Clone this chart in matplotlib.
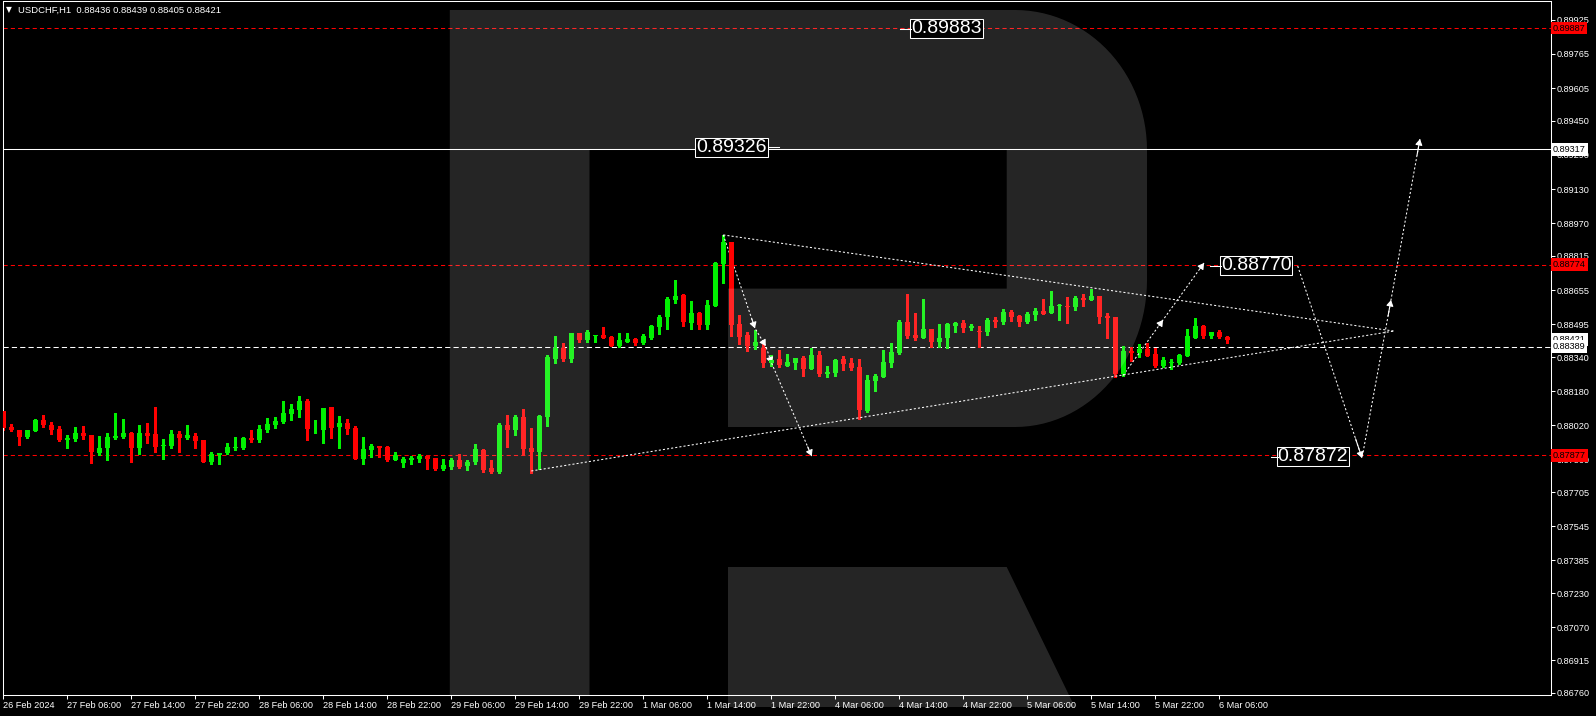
import numpy as np
import matplotlib
matplotlib.use('Agg')
import matplotlib.pyplot as plt
import matplotlib.transforms as mtransforms
from matplotlib.patches import Polygon

plt.rcParams['font.family'] = ['Liberation Sans', 'DejaVu Sans']

# USDCHF H1, bars from 26 Feb 22:00 to 6 Mar 07:00
opens = [0.88086, 0.88012, 0.87996, 0.87965, 0.87993, 0.88043, 0.88020, 0.88001, 0.87951, 0.87956,
         0.87982, 0.87973, 0.87888, 0.87913, 0.87959, 0.87963, 0.87982, 0.87912, 0.87982, 0.87978,
         0.87923, 0.87921, 0.87978, 0.87959, 0.87968, 0.87949, 0.87846, 0.87879, 0.87888, 0.87913,
         0.87912, 0.87959, 0.87949, 0.87996, 0.88020, 0.88034, 0.88072, 0.88091, 0.88133, 0.88004,
         0.87996, 0.88104, 0.88010, 0.88029, 0.88006, 0.87860, 0.87902, 0.87921, 0.87916, 0.87855,
         0.87841, 0.87855, 0.87860, 0.87874, 0.87865, 0.87813, 0.87824, 0.87856, 0.87827, 0.87846,
         0.87903, 0.87820, 0.87801, 0.88020, 0.87997, 0.88058, 0.87911, 0.87895, 0.88058, 0.88331,
         0.88382, 0.88331, 0.88453, 0.88420, 0.88440, 0.88444, 0.88434, 0.88392, 0.88411, 0.88425,
         0.88406, 0.88429, 0.88481, 0.88528, 0.88608, 0.88632, 0.88500, 0.88547, 0.88491, 0.88580,
         0.88777, 0.88881, 0.88495, 0.88444, 0.88392, 0.88382, 0.88313, 0.88331, 0.88298, 0.88312,
         0.88335, 0.88284, 0.88349, 0.88262, 0.88266, 0.88331, 0.88312, 0.88293, 0.88086, 0.88227,
         0.88246, 0.88312, 0.88359, 0.88505, 0.88443, 0.88429, 0.88472, 0.88410, 0.88429, 0.88486,
         0.88500, 0.88476, 0.88462, 0.88458, 0.88514, 0.88505, 0.88552, 0.88533, 0.88505, 0.88538,
         0.88556, 0.88547, 0.88581, 0.88580, 0.88575, 0.88617, 0.88608, 0.88627, 0.88533, 0.88528,
         0.88260, 0.88368, 0.88359, 0.88378, 0.88354, 0.88298, 0.88312, 0.88312, 0.88345, 0.88429,
         0.88486, 0.88439, 0.88458, 0.88436]
highs = [0.88086, 0.88023, 0.87996, 0.87999, 0.88048, 0.88067, 0.88034, 0.88015, 0.87973, 0.88010,
         0.88015, 0.87973, 0.87968, 0.87982, 0.88076, 0.88048, 0.87987, 0.88020, 0.88029, 0.88104,
         0.87954, 0.87996, 0.87992, 0.88020, 0.87982, 0.87949, 0.87893, 0.87888, 0.87935, 0.87963,
         0.87963, 0.87996, 0.88020, 0.88053, 0.88058, 0.88133, 0.88119, 0.88156, 0.88142, 0.88043,
         0.88100, 0.88104, 0.88062, 0.88048, 0.88015, 0.87963, 0.87931, 0.87921, 0.87921, 0.87893,
         0.87870, 0.87874, 0.87884, 0.87879, 0.87865, 0.87860, 0.87865, 0.87884, 0.87856, 0.87931,
         0.87906, 0.87856, 0.88031, 0.88067, 0.88067, 0.88096, 0.88006, 0.88067, 0.88349, 0.88439,
         0.88406, 0.88453, 0.88453, 0.88467, 0.88444, 0.88481, 0.88439, 0.88453, 0.88453, 0.88429,
         0.88448, 0.88491, 0.88538, 0.88622, 0.88702, 0.88636, 0.88603, 0.88552, 0.88608, 0.88787,
         0.88914, 0.88881, 0.88538, 0.88458, 0.88467, 0.88401, 0.88349, 0.88373, 0.88354, 0.88335,
         0.88345, 0.88382, 0.88368, 0.88298, 0.88331, 0.88345, 0.88335, 0.88331, 0.88255, 0.88260,
         0.88373, 0.88406, 0.88514, 0.88636, 0.88547, 0.88613, 0.88472, 0.88495, 0.88500, 0.88505,
         0.88514, 0.88495, 0.88486, 0.88523, 0.88528, 0.88566, 0.88561, 0.88538, 0.88552, 0.88570,
         0.88613, 0.88650, 0.88589, 0.88622, 0.88627, 0.88636, 0.88660, 0.88627, 0.88547, 0.88528,
         0.88392, 0.88387, 0.88401, 0.88406, 0.88382, 0.88340, 0.88331, 0.88354, 0.88472, 0.88523,
         0.88490, 0.88458, 0.88467, 0.88439]
lows = [0.87995, 0.87993, 0.87926, 0.87960, 0.87993, 0.88010, 0.87978, 0.87945, 0.87912, 0.87945,
        0.87956, 0.87841, 0.87879, 0.87855, 0.87954, 0.87959, 0.87846, 0.87884, 0.87935, 0.87893,
        0.87860, 0.87912, 0.87893, 0.87954, 0.87912, 0.87846, 0.87837, 0.87837, 0.87884, 0.87902,
        0.87907, 0.87940, 0.87940, 0.87987, 0.88006, 0.88029, 0.88043, 0.88058, 0.87949, 0.87982,
        0.87935, 0.87959, 0.87912, 0.87978, 0.87860, 0.87837, 0.87870, 0.87870, 0.87851, 0.87855,
        0.87822, 0.87837, 0.87846, 0.87812, 0.87809, 0.87809, 0.87812, 0.87816, 0.87809, 0.87837,
        0.87801, 0.87796, 0.87795, 0.87918, 0.87973, 0.87879, 0.87793, 0.87815, 0.88016, 0.88312,
        0.88321, 0.88317, 0.88411, 0.88411, 0.88411, 0.88429, 0.88392, 0.88387, 0.88411, 0.88396,
        0.88401, 0.88425, 0.88448, 0.88472, 0.88594, 0.88486, 0.88472, 0.88472, 0.88472, 0.88580,
        0.88688, 0.88439, 0.88401, 0.88368, 0.88378, 0.88293, 0.88298, 0.88293, 0.88298, 0.88284,
        0.88251, 0.88284, 0.88251, 0.88246, 0.88251, 0.88279, 0.88279, 0.88048, 0.88081, 0.88180,
        0.88246, 0.88293, 0.88354, 0.88429, 0.88420, 0.88429, 0.88387, 0.88387, 0.88382, 0.88458,
        0.88458, 0.88467, 0.88387, 0.88443, 0.88481, 0.88495, 0.88509, 0.88486, 0.88500, 0.88514,
        0.88542, 0.88547, 0.88514, 0.88500, 0.88561, 0.88580, 0.88608, 0.88500, 0.88429, 0.88246,
        0.88251, 0.88321, 0.88340, 0.88345, 0.88293, 0.88293, 0.88283, 0.88307, 0.88345, 0.88429,
        0.88429, 0.88429, 0.88429, 0.88405]
closes = [0.88007, 0.87998, 0.87965, 0.87996, 0.88043, 0.88020, 0.87996, 0.87949, 0.87960, 0.87982,
          0.87968, 0.87893, 0.87912, 0.87963, 0.87968, 0.87982, 0.87912, 0.87982, 0.87968, 0.87916,
          0.87926, 0.87978, 0.87959, 0.87973, 0.87945, 0.87846, 0.87884, 0.87888, 0.87916, 0.87916,
          0.87959, 0.87949, 0.88001, 0.88025, 0.88039, 0.88076, 0.88095, 0.88133, 0.88001, 0.88007,
          0.88100, 0.88006, 0.88029, 0.88001, 0.87860, 0.87907, 0.87921, 0.87912, 0.87855, 0.87879,
          0.87860, 0.87865, 0.87874, 0.87862, 0.87812, 0.87832, 0.87856, 0.87821, 0.87848, 0.87907,
          0.87809, 0.87801, 0.88022, 0.87997, 0.88058, 0.87907, 0.87895, 0.88063, 0.88340, 0.88382,
          0.88331, 0.88453, 0.88420, 0.88458, 0.88444, 0.88429, 0.88392, 0.88420, 0.88425, 0.88406,
          0.88439, 0.88486, 0.88528, 0.88613, 0.88627, 0.88505, 0.88547, 0.88491, 0.88585, 0.88782,
          0.88881, 0.88491, 0.88434, 0.88392, 0.88411, 0.88312, 0.88326, 0.88302, 0.88317, 0.88335,
          0.88284, 0.88349, 0.88260, 0.88270, 0.88326, 0.88307, 0.88288, 0.88091, 0.88232, 0.88251,
          0.88316, 0.88363, 0.88505, 0.88439, 0.88429, 0.88472, 0.88410, 0.88429, 0.88495, 0.88500,
          0.88476, 0.88486, 0.88458, 0.88514, 0.88505, 0.88552, 0.88528, 0.88505, 0.88542, 0.88556,
          0.88542, 0.88580, 0.88584, 0.88577, 0.88617, 0.88608, 0.88627, 0.88528, 0.88523, 0.88260,
          0.88368, 0.88359, 0.88378, 0.88345, 0.88298, 0.88326, 0.88316, 0.88349, 0.88439, 0.88486,
          0.88439, 0.88458, 0.88434, 0.88421]

time_labels = ['26 Feb 2024', '27 Feb 06:00', '27 Feb 14:00', '27 Feb 22:00', '28 Feb 06:00',
               '28 Feb 14:00', '28 Feb 22:00', '29 Feb 06:00', '29 Feb 14:00', '29 Feb 22:00',
               '1 Mar 06:00', '1 Mar 14:00', '1 Mar 22:00', '4 Mar 06:00', '4 Mar 14:00',
               '4 Mar 22:00', '5 Mar 06:00', '5 Mar 14:00', '5 Mar 22:00', '6 Mar 06:00']
price_ticks = [0.89925, 0.89765, 0.89605, 0.89450, 0.89290, 0.89130, 0.88970, 0.88815, 0.88655,
               0.88495, 0.88340, 0.88180, 0.88020, 0.87860, 0.87705, 0.87545, 0.87385, 0.87230,
               0.87070, 0.86915, 0.86760]

red_levels = [0.89887, 0.88774, 0.87877]
white_level = 0.89317
bid_level = 0.88389
last_price = 0.88421

# forecast / triangle lines (bar index, price)
tri_up_x, tri_up_y = [90.0, 173.8], [0.88914, 0.88462]
tri_lo_x, tri_lo_y = [66.0, 173.8], [0.87804, 0.88462]
fc1_x = [90.0, 93.96, 95.3, 96.05, 101.05]
fc1_y = [0.88914, 0.88475, 0.88392, 0.88310, 0.87874]
fc2_x = [139.96, 144.96, 150.09]
fc2_y = [0.88253, 0.88514, 0.88782]
fc3_x = [161.8, 169.84, 173.46, 177.08]
fc3_y = [0.88768, 0.87865, 0.88608, 0.89365]

label_vals = [0.89883, 0.89326, 0.88770, 0.87872]
label_x = [113.5, 86.6, 152.2, 159.3]

W, H = 1596, 716
fig = plt.figure(figsize=(W / 100, H / 100), dpi=100, facecolor='black')
ax = fig.add_axes([2.5 / W, (H - 695) / H, 1548 / W, 693.5 / H])
ax.set_facecolor('black')

x = np.arange(len(opens))
o, h, l, c = map(np.array, (opens, highs, lows, closes))
col = np.where(c >= o, '#00f000', '#ff0000')
ax.vlines(x, l, h, colors=col, linewidth=0.75, zorder=2, antialiased=False)
body = np.maximum(np.abs(c - o), 0.00004)
ax.bar(x, body, bottom=np.minimum(o, c), width=0.625, color=col, linewidth=0, zorder=3)

for lv in red_levels:
    ax.axhline(lv, color='#ff0000', lw=0.75, dashes=(4, 3), zorder=1.5)
ax.axhline(white_level, color='white', lw=0.75, zorder=1.5)
ax.axhline(bid_level, color='white', lw=0.75, dashes=(5, 3), zorder=1.5)

dot = dict(color='white', lw=0.75, dashes=(2, 2), zorder=2.5)
ax.plot(tri_up_x, tri_up_y, **dot)
ax.plot(tri_lo_x, tri_lo_y, **dot)
for px, py in ((fc1_x, fc1_y), (fc2_x, fc2_y), (fc3_x, fc3_y)):
    ax.plot(px, py, **dot)
    for k in range(1, len(px)):
        x0, y0, x1, y1 = px[k - 1], py[k - 1], px[k], py[k]
        ax.annotate('', xy=(x1, y1), xytext=(x1 - 0.1 * (x1 - x0), y1 - 0.1 * (y1 - y0)),
                    arrowprops=dict(arrowstyle='-|>,head_length=0.5,head_width=0.3',
                                    color='white', lw=0.8, shrinkA=0, shrinkB=0,
                                    mutation_scale=7), zorder=2.6)

ax.set_xlim(-0.1, 193.4)
ax.set_ylim(0.867505, 0.900118)

# watermark "R", in pixel coordinates
pix = mtransforms.Affine2D().scale(0.01, -0.01).translate(0, H / 100) + fig.dpi_scale_trans
t = np.linspace(0, np.pi / 2, 30)
top_arc = np.column_stack([1015 + 132 * np.sin(t), 150 - 140 * np.cos(t)])
bot_arc = np.column_stack([1015 + 132 * np.cos(t), 280 + 147 * np.sin(t)])
r_outline = np.vstack([[[449.8, 10]], top_arc, bot_arc,
                       [[728, 427], [728, 288.6], [1006.7, 288.6], [1006.7, 149],
                        [589.5, 149], [589.5, 695], [449.8, 695]]])
r_leg = np.array([[728, 567], [1006.7, 567], [1074.8, 707], [728, 707]])
for pts in (r_outline, r_leg):
    p = Polygon(pts, closed=True, facecolor='white', alpha=0.15, edgecolor='none',
                transform=pix, zorder=4, clip_on=False)
    ax.add_patch(p)

# level labels on the chart
for lx, lv in zip(label_x, label_vals):
    ax.text(lx, lv, f'{lv:.5f}', color='white', fontsize=14, va='center', ha='left',
            bbox=dict(boxstyle='square,pad=0.05', fc='black', ec='white', lw=0.75), zorder=6)
ax.plot([label_x[0] - 1.4, label_x[0]], [label_vals[0]] * 2, color='white', lw=0.75, zorder=6)
ax.plot([label_x[1] + 9.1, label_x[1] + 10.4], [label_vals[1]] * 2, color='white', lw=0.75, zorder=6)
ax.plot([label_x[2] - 1.3, label_x[2]], [label_vals[2]] * 2, color='white', lw=0.75, zorder=6)
ax.plot([label_x[3] - 0.9, label_x[3]], [label_vals[3]] * 2, color='white', lw=0.75, zorder=6)

# axes styling
for s in ax.spines.values():
    s.set_color('white')
    s.set_linewidth(0.75)
ax.yaxis.tick_right()
ax.set_yticks(price_ticks)
ax.set_yticklabels([f'{v:.5f}' for v in price_ticks])
ax.tick_params(axis='y', colors='white', length=3, width=0.75, pad=1.5, labelsize=6.6)
ax.set_xticks(np.arange(0, 8 * len(time_labels), 8))
ax.set_xticklabels(time_labels)
ax.tick_params(axis='x', colors='white', length=3, width=0.75, pad=1.5, labelsize=6.6)
for tl in ax.get_xticklabels():
    tl.set_ha('left')

# price tags on the scale
ytr = ax.get_yaxis_transform()
tags = [(red_levels[0], '#ff0000'), (white_level, 'white'), (red_levels[1], '#ff0000'),
        (last_price, 'white'), (bid_level, 'white'), (red_levels[2], '#ff0000')]
for lv, fc in tags:
    ax.text(1.0015, lv, f'{lv:.5f}', transform=ytr, color='black', fontsize=6.6,
            va='center', ha='left', clip_on=False, zorder=7,
            bbox=dict(boxstyle='square,pad=0.2', fc=fc, ec='none'))

fig.text(6 / W, 1 - 10 / H, '\u25bc', color='white', fontsize=5.5, va='center',
         family='DejaVu Sans')
fig.text(17.5 / W, 1 - 10 / H, 'USDCHF,H1  0.88436 0.88439 0.88405 0.88421',
         color='white', fontsize=6.8, va='center')

fig.savefig('out.png', dpi=100, facecolor='black')
